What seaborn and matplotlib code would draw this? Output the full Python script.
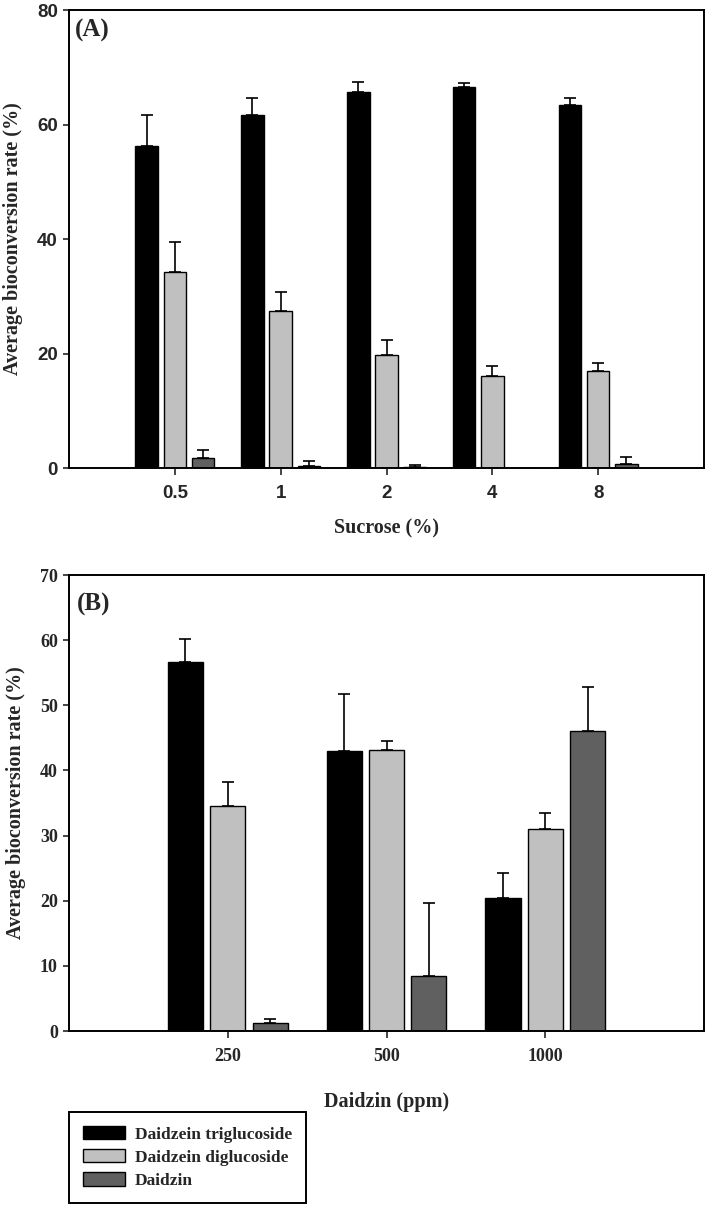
import numpy as np
import pandas as pd
import matplotlib
matplotlib.use('Agg')
import matplotlib.pyplot as plt
from matplotlib.patches import Patch
import seaborn as sns

# ---------------- data ----------------
series = ['Daidzein triglucoside', 'Daidzein diglucoside', 'Daidzin']
colors = ['#000000', '#c0c0c0', '#606060']

sucrose = ['0.5', '1', '2', '4', '8']
a_mean = {
    'Daidzein triglucoside': [56.3, 61.7, 65.7, 66.6, 63.4],
    'Daidzein diglucoside': [34.2, 27.5, 19.7, 16.1, 17.0],
    'Daidzin': [1.7, 0.4, 0.1, 0.0, 0.7],
}
a_sd = {
    'Daidzein triglucoside': [5.4, 2.9, 1.7, 0.7, 1.3],
    'Daidzein diglucoside': [5.2, 3.3, 2.6, 1.8, 1.4],
    'Daidzin': [1.5, 0.8, 0.4, 0.0, 1.2],
}

daidzin_ppm = ['250', '500', '1000']
b_mean = {
    'Daidzein triglucoside': [56.6, 43.0, 20.4],
    'Daidzein diglucoside': [34.6, 43.1, 31.0],
    'Daidzin': [1.2, 8.5, 46.0],
}
b_sd = {
    'Daidzein triglucoside': [3.6, 8.8, 3.8],
    'Daidzein diglucoside': [3.6, 1.4, 2.4],
    'Daidzin': [0.6, 11.2, 6.8],
}


def long_table(cats, means, sds, xname):
    rows = []
    for s in series:
        for c, m, e in zip(cats, means[s], sds[s]):
            rows.append({xname: c, 'series': s, 'value': m, 'sd': e})
    return pd.DataFrame(rows)


sns.set_style('ticks')
plt.rcParams['font.family'] = ['Liberation Serif', 'DejaVu Serif']
plt.rcParams['font.weight'] = 'bold'
plt.rcParams['axes.linewidth'] = 1.4

serif = ['Liberation Serif', 'DejaVu Serif']
narrow = ['Liberation Sans Narrow', 'Liberation Sans', 'DejaVu Sans']

fig = plt.figure(figsize=(7.09, 12.09), dpi=100)
axA = fig.add_axes([0.0973, 0.6129, 0.8957, 0.3788])
axB = fig.add_axes([0.0973, 0.1472, 0.8957, 0.3772])


def draw_panel(ax, df, xname, cats, gap):
    sns.barplot(data=df, x=xname, y='value', hue='series', order=cats,
                hue_order=series, palette=colors, width=0.8, gap=gap,
                edgecolor='black', linewidth=1.0, errorbar=None,
                legend=False, ax=ax)
    # upper-only error bars on the bars seaborn drew
    for cont, s in zip(ax.containers, series):
        sub = df[df['series'] == s].set_index(xname).loc[cats]
        for bar, m, e in zip(cont, sub['value'], sub['sd']):
            if e <= 0:
                continue
            xc = bar.get_x() + bar.get_width() / 2
            ax.errorbar(xc, m, yerr=[[0], [e]], fmt='none', ecolor='black',
                        elinewidth=1.2, capsize=4.5, capthick=1.2, zorder=1)
    ax.set_xlim(-1, len(cats))
    for sp in ax.spines.values():
        sp.set_visible(True)
        sp.set_color('black')
        sp.set_linewidth(1.4)
    ax.tick_params(axis='x', direction='out', length=5, width=1.2, pad=7)
    ax.tick_params(axis='y', direction='out', length=4, width=1.2, pad=4)


dfA = long_table(sucrose, a_mean, a_sd, 'Sucrose')
draw_panel(axA, dfA, 'Sucrose', sucrose, 0.2)
axA.set_ylim(0, 80)
axA.set_yticks([0, 20, 40, 60, 80])
for lab in axA.get_xticklabels() + axA.get_yticklabels():
    lab.set_family(narrow)
    lab.set_fontweight('bold')
    lab.set_fontsize(13.5)
axA.set_xlabel('Sucrose (%)', fontsize=14.5, fontweight='bold', family=serif, labelpad=12)
axA.set_ylabel('Average bioconversion rate (%)', fontsize=14.5, fontweight='bold',
               family=serif, labelpad=10)
axA.text(0.01, 0.98, '(A)', transform=axA.transAxes, fontsize=18,
         fontweight='bold', family=serif, va='top', ha='left')

dfB = long_table(daidzin_ppm, b_mean, b_sd, 'Daidzin')
draw_panel(axB, dfB, 'Daidzin', daidzin_ppm, 0.17)
axB.set_ylim(0, 70)
axB.set_yticks(np.arange(0, 71, 10))
for lab in axB.get_xticklabels() + axB.get_yticklabels():
    lab.set_family(serif)
    lab.set_fontweight('bold')
    lab.set_fontsize(13)
axB.set_xlabel('Daidzin (ppm)', fontsize=14.5, fontweight='bold', family=serif, labelpad=20)
axB.set_ylabel('Average bioconversion rate (%)', fontsize=14.5, fontweight='bold',
               family=serif, labelpad=10)
axB.text(0.013, 0.96, '(B)', transform=axB.transAxes, fontsize=18,
         fontweight='bold', family=serif, va='top', ha='left')

handles = [Patch(facecolor=c, edgecolor='black', linewidth=1.0) for c in colors]
leg = fig.legend(handles, series, loc='upper left', bbox_to_anchor=(0.0973, 0.0802),
                 bbox_transform=fig.transFigure, borderaxespad=0, fancybox=False,
                 edgecolor='black', framealpha=1, borderpad=0.8, labelspacing=0.38,
                 handlelength=2.4, handleheight=0.8, handletextpad=0.6,
                 prop={'family': serif, 'weight': 'bold', 'size': 12.5})
leg.get_frame().set_linewidth(1.4)

fig.savefig('out.png', dpi=100)
